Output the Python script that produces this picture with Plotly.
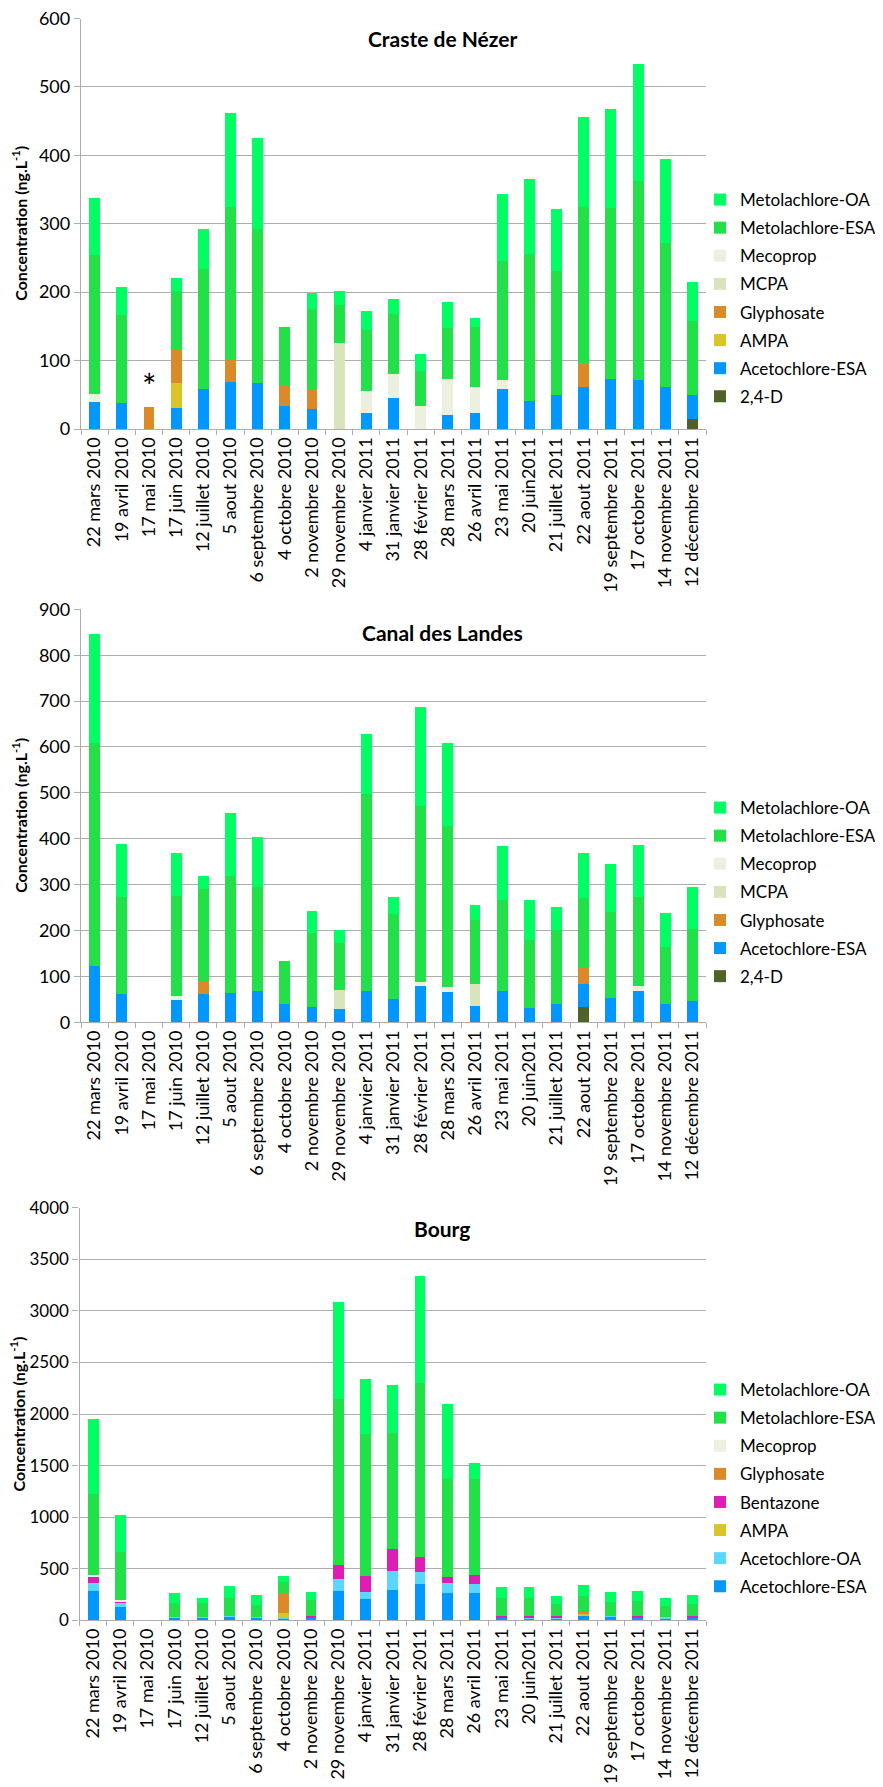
import plotly.graph_objects as go

# Sampling dates (same for the three sites)
dates = ["22 mars 2010", "19 avril 2010", "17 mai 2010", "17 juin 2010", "12 juillet 2010",
         "5 aout 2010", "6 septembre 2010", "4 octobre 2010", "2 novembre 2010",
         "29 novembre 2010", "4 janvier 2011", "31 janvier 2011", "28 février 2011",
         "28 mars 2011", "26 avril 2011", "23 mai 2011", "20 juin2011", "21 juillet 2011",
         "22 aout 2011", "19 septembre 2011", "17 octobre 2011", "14 novembre 2011",
         "12 décembre 2011"]

# --- Craste de Nézer (ng/L) ---
craste_24d = [0, 0, 0, 0, 0, 0, 0, 0, 0, 0, 0, 0, 0, 0, 0, 0, 0, 0, 0, 0, 0, 0, 15]
craste_aceto_esa = [40, 38, 0, 31, 58, 69, 67, 33, 29, 0, 23, 45, 0, 20, 24, 58, 41, 49, 61, 73, 72, 61, 34]
craste_ampa = [0, 0, 0, 36, 0, 0, 0, 0, 0, 0, 0, 0, 0, 0, 0, 0, 0, 0, 0, 0, 0, 0, 0]
craste_glyphosate = [0, 0, 32, 50, 0, 32, 0, 30, 30, 0, 0, 0, 0, 0, 0, 0, 0, 0, 34, 0, 0, 0, 0]
craste_mcpa = [0, 0, 0, 0, 0, 0, 0, 0, 0, 126, 0, 0, 0, 0, 0, 0, 0, 0, 0, 0, 0, 0, 0]
craste_mecoprop = [11, 0, 0, 0, 0, 0, 0, 0, 0, 0, 32, 35, 33, 53, 37, 13, 0, 0, 0, 0, 0, 0, 0]
craste_meto_esa = [203, 129, 0, 84, 176, 224, 226, 86, 116, 55, 90, 88, 52, 75, 88, 175, 215, 182, 230, 250, 290, 211, 109]
craste_meto_oa = [83, 41, 0, 20, 58, 137, 133, 0, 24, 20, 28, 22, 24, 37, 13, 97, 110, 91, 131, 144, 172, 123, 57]

# --- Canal des Landes (ng/L) ---
canal_24d = [0, 0, 0, 0, 0, 0, 0, 0, 0, 0, 0, 0, 0, 0, 0, 0, 0, 0, 33, 0, 0, 0, 0]
canal_aceto_esa = [123, 62, 0, 49, 62, 63, 68, 40, 34, 29, 68, 51, 80, 65, 36, 68, 32, 40, 51, 54, 68, 40, 47]
canal_glyphosate = [0, 0, 0, 0, 25, 0, 0, 0, 0, 0, 0, 0, 0, 0, 0, 0, 0, 0, 34, 0, 0, 0, 0]
canal_mcpa = [0, 0, 0, 0, 0, 0, 0, 0, 0, 41, 0, 0, 0, 0, 47, 0, 0, 0, 0, 0, 0, 0, 0]
canal_mecoprop = [0, 0, 0, 8, 0, 0, 0, 0, 0, 0, 0, 0, 8, 12, 0, 0, 0, 0, 0, 0, 12, 0, 0]
canal_meto_esa = [486, 210, 0, 219, 204, 255, 227, 93, 161, 102, 429, 186, 384, 350, 141, 199, 148, 162, 152, 187, 192, 125, 156]
canal_meto_oa = [237, 117, 0, 92, 28, 139, 108, 0, 47, 29, 131, 35, 215, 181, 32, 118, 86, 49, 100, 104, 115, 73, 91]

# --- Bourg (ng/L) ---
bourg_aceto_esa = [288, 132, 0, 26, 26, 36, 26, 16, 26, 288, 210, 298, 352, 268, 268, 29, 19, 19, 42, 36, 32, 23, 32]
bourg_aceto_oa = [77, 39, 0, 6, 6, 6, 10, 10, 4, 113, 65, 184, 119, 97, 84, 3, 10, 10, 0, 3, 0, 6, 0]
bourg_ampa = [0, 0, 0, 0, 0, 0, 0, 45, 0, 0, 0, 0, 0, 0, 0, 0, 0, 0, 29, 0, 0, 0, 0]
bourg_bentazone = [58, 13, 0, 0, 0, 0, 0, 0, 12, 139, 155, 205, 146, 52, 90, 14, 16, 10, 0, 0, 10, 0, 10]
bourg_glyphosate = [0, 0, 0, 0, 0, 0, 0, 188, 0, 0, 0, 0, 0, 0, 0, 0, 0, 0, 13, 0, 0, 0, 0]
bourg_mecoprop = [20, 13, 0, 0, 0, 0, 0, 0, 0, 0, 0, 0, 0, 0, 0, 0, 0, 0, 0, 0, 0, 0, 0]
bourg_meto_esa = [779, 469, 0, 136, 139, 171, 109, 109, 152, 1608, 1379, 1132, 1681, 956, 931, 168, 168, 116, 149, 139, 149, 113, 113]
bourg_meto_oa = [727, 352, 0, 100, 42, 120, 101, 62, 81, 941, 533, 465, 1043, 724, 149, 110, 110, 84, 113, 97, 97, 75, 91]

colors = {
    "Metolachlore-OA": "#00FF62",
    "Metolachlore-ESA": "#22E048",
    "Mecoprop": "#EBF1DE",
    "MCPA": "#D7E4BD",
    "Glyphosate": "#DA8A28",
    "AMPA": "#DAC526",
    "Acetochlore-ESA": "#0098FF",
    "Acetochlore-OA": "#5AD7FF",
    "Bentazone": "#DC1EB4",
    "2,4-D": "#4F6228",
}

# stacking order, bottom to top
panels = [
    ("Craste de Nézer", [("2,4-D", craste_24d), ("Acetochlore-ESA", craste_aceto_esa),
                          ("AMPA", craste_ampa), ("Glyphosate", craste_glyphosate),
                          ("MCPA", craste_mcpa), ("Mecoprop", craste_mecoprop),
                          ("Metolachlore-ESA", craste_meto_esa), ("Metolachlore-OA", craste_meto_oa)]),
    ("Canal des Landes", [("2,4-D", canal_24d), ("Acetochlore-ESA", canal_aceto_esa),
                           ("Glyphosate", canal_glyphosate), ("MCPA", canal_mcpa),
                           ("Mecoprop", canal_mecoprop), ("Metolachlore-ESA", canal_meto_esa),
                           ("Metolachlore-OA", canal_meto_oa)]),
    ("Bourg", [("Acetochlore-ESA", bourg_aceto_esa), ("Acetochlore-OA", bourg_aceto_oa),
               ("AMPA", bourg_ampa), ("Bentazone", bourg_bentazone),
               ("Glyphosate", bourg_glyphosate), ("Mecoprop", bourg_mecoprop),
               ("Metolachlore-ESA", bourg_meto_esa), ("Metolachlore-OA", bourg_meto_oa)]),
]

# the page body has an 8px margin, so the figure is a bit smaller than the window
OFF = 8
W, H = 883 - OFF, 1787 - OFF
FONT = "Lato"
GRID = "#ADADAD"


def xp(px):
    return (px - OFF) / W


def yp(py):
    return 1 - (py - OFF) / H


# page-pixel geometry of each panel:
# (x left, y top, y bottom, y max, dtick, legend top, ytitle x, ytick size)
geom = [
    (81, 18.5, 429, 600, 100, 182, 20, 18),
    (81, 609.3, 1022.3, 900, 100, 790, 20, 18),
    (79.5, 1207.7, 1620.3, 4000, 500, 1372, 17.5, 17),
]
title_y = [38, 632, 1228]

fig = go.Figure()
annotations = []
for i, (title, series) in enumerate(panels):
    n = "" if i == 0 else str(i + 1)
    leg = "legend" if i == 0 else "legend" + n
    for k, (name, vals) in enumerate(series):
        fig.add_trace(go.Bar(
            x=dates, y=vals, name=name,
            marker=dict(color=colors[name], line=dict(width=0)),
            xaxis="x" + n, yaxis="y" + n, legend=leg,
            legendgroup=f"{i}-{name}", legendrank=100 - k,
        ))
    xl, yt, yb, ymax, dt, lt, tx, tsize = geom[i]
    fig.layout["xaxis" + n] = dict(
        domain=[xp(xl), xp(706)], anchor="y" + n, type="category",
        categoryorder="array", categoryarray=dates,
        tickangle=-90, tickfont=dict(family=FONT, size=18, color="black"),
        showline=True, linecolor=GRID, linewidth=1.3,
        ticks="outside", tickson="boundaries", ticklen=5, tickcolor=GRID,
        showgrid=False, automargin=False, ticklabeloverflow="allow",
    )
    fig.layout["yaxis" + n] = dict(
        domain=[yp(yb), yp(yt)], anchor="x" + n,
        range=[0, ymax], dtick=dt, tick0=0,
        tickfont=dict(family=FONT, size=tsize, color="black"),
        showgrid=True, gridcolor=GRID, gridwidth=1.3,
        showline=True, linecolor=GRID, linewidth=1.3,
        ticks="outside", ticklen=6, tickcolor=GRID, zeroline=False,
        automargin=False, ticklabeloverflow="allow",
    )
    fig.layout[leg] = dict(
        x=xp(700), xanchor="left", y=yp(lt), yanchor="top",
        traceorder="grouped", tracegroupgap=3,
        font=dict(family=FONT, size=17, color="black"),
        bgcolor="rgba(0,0,0,0)",
    )
    annotations.append(dict(
        text=f"<b>{title}</b>", x=xp(442), y=yp(title_y[i]), xref="paper", yref="paper",
        xanchor="center", yanchor="middle",
        showarrow=False, font=dict(family=FONT, size=21, color="black"),
    ))
    annotations.append(dict(
        text="<b>Concentration (ng.L<sup>-1</sup>)</b>", textangle=-90,
        x=xp(tx), y=yp((yt + yb) / 2), xref="paper", yref="paper",
        xanchor="center", yanchor="middle",
        showarrow=False, font=dict(family=FONT, size=16, color="black"),
    ))

# asterisk over the 17 mai 2010 sample at Craste de Nézer
annotations.append(dict(text="*", x="17 mai 2010", y=64, xref="x", yref="y",
                        xanchor="center", yanchor="middle",
                        showarrow=False, font=dict(family=FONT, size=34, color="black")))

fig.update_layout(
    width=W, height=H, autosize=False,
    margin=dict(l=0, r=0, t=0, b=0, pad=0, autoexpand=False),
    barmode="stack", bargap=0.6,
    plot_bgcolor="white", paper_bgcolor="white",
    font=dict(family=FONT, color="black"),
    annotations=annotations,
)

fig.write_html("out.html")
